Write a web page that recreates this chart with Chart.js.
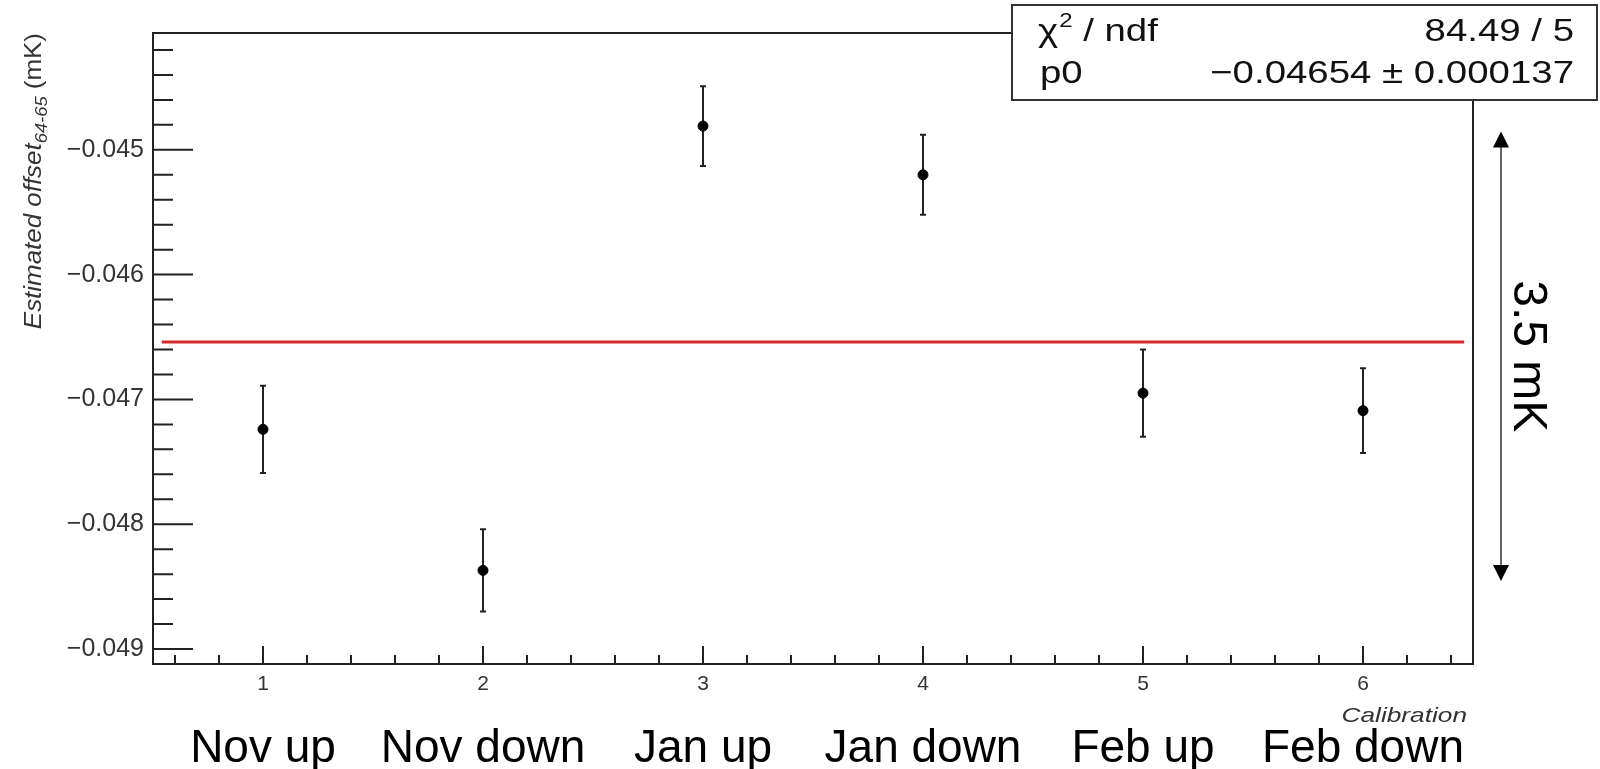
<!DOCTYPE html>
<html>
<head>
<meta charset="utf-8">
<script src="https://cdn.jsdelivr.net/npm/chart.js@4"></script>
<style>
  html, body { margin: 0; padding: 0; background: #fff; }
  canvas { display: block; }
</style>
</head>
<body>
<canvas id="offsetChart" width="1600" height="769"></canvas>
<script>
// 측정값 (calibration 별 offset, mK)
const calibX = [1, 2, 3, 4, 5, 6];
const offsetVals = [-0.04724, -0.04837, -0.04481, -0.04520, -0.04695, -0.04709];
const offsetErrs = [0.00035, 0.00033, 0.00032, 0.00032, 0.00035, 0.00034];
const monthLabels = ['Nov up', 'Nov down', 'Jan up', 'Jan down', 'Feb up', 'Feb down'];

// 축 눈금
const xTickVals = [1, 2, 3, 4, 5, 6];
const yTickVals = [-0.049, -0.048, -0.047, -0.046, -0.045];
const xRange = [0.5, 6.5];
const yRange = [-0.04912, -0.044064];

// 상수 fit 결과
const fitP0 = -0.04654;
const fitErr = 0.000137;
const fitChi2 = 84.49;
const fitNdf = 5;
const fitRange = [0.54, 6.46];

// 오른쪽 화살표 (3.5 mK 범위)
const arrowSpan = [-0.044854, -0.048454];
const arrowText = '3.5 mK';

const FONT = "'Liberation Sans', Arial, Helvetica, sans-serif";
const INK = '#222';

function minusSign(s) {
    return s.replace('-', '\u2212');
}

// 가로로 늘린 텍스트 (ROOT 그림이 가로로 늘어나 있음)
function stretchText(ctx, text, x, y, sx, align) {
    ctx.save();
    ctx.translate(x, y);
    ctx.scale(sx, 1);
    ctx.textAlign = align;
    ctx.fillText(text, 0, 0);
    ctx.restore();
}

const rootDecor = {
    id: 'rootDecor',
    beforeDatasetsDraw(chart) {
        const ctx = chart.ctx;
        const xs = chart.scales.x;
        const ys = chart.scales.y;
        ctx.save();
        ctx.strokeStyle = INK;
        ctx.lineWidth = 2;
        for (let i = 0; i < calibX.length; i++) {
            const px = xs.getPixelForValue(calibX[i]);
            const top = ys.getPixelForValue(offsetVals[i] + offsetErrs[i]);
            const bot = ys.getPixelForValue(offsetVals[i] - offsetErrs[i]);
            ctx.beginPath();
            ctx.moveTo(px, top);
            ctx.lineTo(px, bot);
            ctx.moveTo(px - 3, top);
            ctx.lineTo(px + 3, top);
            ctx.moveTo(px - 3, bot);
            ctx.lineTo(px + 3, bot);
            ctx.stroke();
        }
        ctx.restore();
    },
    afterDraw(chart) {
        const ctx = chart.ctx;
        const xs = chart.scales.x;
        const ys = chart.scales.y;
        const area = chart.chartArea;
        ctx.save();

        // frame
        ctx.strokeStyle = INK;
        ctx.lineWidth = 2;
        ctx.strokeRect(area.left, area.top, area.right - area.left, area.bottom - area.top);

        // y ticks (안쪽으로)
        ctx.beginPath();
        const yStep = 0.0002;
        for (let k = Math.ceil(yRange[0] / yStep - 1e-6); k * yStep <= yRange[1] + 1e-9; k++) {
            const py = ys.getPixelForValue(k * yStep);
            const len = (k % 5 === 0) ? 40 : 20;
            ctx.moveTo(area.left, py);
            ctx.lineTo(area.left + len, py);
        }
        // x ticks
        const xStep = 0.2;
        for (let k = Math.ceil(xRange[0] / xStep + 1e-6); k * xStep < xRange[1] - 1e-6; k++) {
            const px = xs.getPixelForValue(k * xStep);
            const len = (k % 5 === 0) ? 18 : 9;
            ctx.moveTo(px, area.bottom);
            ctx.lineTo(px, area.bottom - len);
        }
        ctx.stroke();

        // y axis title
        ctx.fillStyle = '#333';
        ctx.save();
        const mainFont = 'italic 24px ' + FONT;
        const subFont = 'italic 17px ' + FONT;
        const tailFont = '24px ' + FONT;
        ctx.font = mainFont;
        const w1 = ctx.measureText('Estimated offset').width;
        ctx.font = subFont;
        const w2 = ctx.measureText('64-65').width;
        ctx.font = tailFont;
        const w3 = ctx.measureText(' (mK)').width;
        const sy = 1.08;
        const total = (w1 + w2 + w3) * sy;
        ctx.translate(41, area.top + total);
        ctx.rotate(-Math.PI / 2);
        ctx.scale(sy, 1);
        ctx.textAlign = 'left';
        ctx.textBaseline = 'alphabetic';
        ctx.font = mainFont;
        ctx.fillText('Estimated offset', 0, 0);
        ctx.font = subFont;
        ctx.fillText('64-65', w1, 6);
        ctx.font = tailFont;
        ctx.fillText(' (mK)', w1 + w2, 0);
        ctx.restore();

        // x axis title
        ctx.font = 'italic 21px ' + FONT;
        ctx.textBaseline = 'alphabetic';
        stretchText(ctx, 'Calibration', area.right - 6, 722, 1.25, 'right');

        // month labels
        ctx.fillStyle = '#000';
        ctx.font = '46px ' + FONT;
        ctx.textAlign = 'center';
        for (let i = 0; i < monthLabels.length; i++) {
            ctx.fillText(monthLabels[i], xs.getPixelForValue(xTickVals[i]), 762);
        }

        // stats box
        const bx = 1012, by = 5, bw = 585, bh = 95;
        ctx.fillStyle = '#fff';
        ctx.fillRect(bx, by, bw, bh);
        ctx.strokeStyle = '#333';
        ctx.lineWidth = 2;
        ctx.strokeRect(bx, by, bw, bh);

        ctx.fillStyle = '#111';
        const sx = 1.2;
        ctx.font = '32px ' + FONT;
        let cx = 1038;
        stretchText(ctx, '\u03c7', cx, 41, sx, 'left');
        cx += ctx.measureText('\u03c7').width * sx;
        ctx.font = '20px ' + FONT;
        stretchText(ctx, '2', cx + 1, 27, sx, 'left');
        cx += ctx.measureText('2').width * sx + 1;
        ctx.font = '32px ' + FONT;
        stretchText(ctx, ' / ndf', cx, 41, sx, 'left');
        stretchText(ctx, fitChi2.toFixed(2) + ' / ' + fitNdf, 1574, 41, sx, 'right');
        stretchText(ctx, 'p0', 1040, 83, sx, 'left');
        stretchText(ctx, minusSign(fitP0.toFixed(5)) + ' \u00b1 ' + fitErr.toFixed(6), 1574, 83, sx, 'right');

        // arrow
        const ax = area.right + 28;
        const aTop = ys.getPixelForValue(arrowSpan[0]);
        const aBot = ys.getPixelForValue(arrowSpan[1]);
        ctx.strokeStyle = '#333';
        ctx.lineWidth = 1.5;
        ctx.beginPath();
        ctx.moveTo(ax, aTop + 12);
        ctx.lineTo(ax, aBot - 12);
        ctx.stroke();
        ctx.fillStyle = '#000';
        ctx.beginPath();
        ctx.moveTo(ax, aTop);
        ctx.lineTo(ax - 8, aTop + 16);
        ctx.lineTo(ax + 8, aTop + 16);
        ctx.closePath();
        ctx.moveTo(ax, aBot);
        ctx.lineTo(ax - 8, aBot - 16);
        ctx.lineTo(ax + 8, aBot - 16);
        ctx.closePath();
        ctx.fill();

        ctx.save();
        ctx.translate(ax + 26, (aTop + aBot) / 2);
        ctx.rotate(Math.PI / 2);
        ctx.font = '48px ' + FONT;
        ctx.textAlign = 'center';
        ctx.textBaseline = 'middle';
        ctx.fillText(arrowText, 0, 0);
        ctx.restore();

        ctx.restore();
    }
};

const points = calibX.map((x, i) => ({ x: x, y: offsetVals[i] }));
const fitLine = fitRange.map(x => ({ x: x, y: fitP0 }));

new Chart(document.getElementById('offsetChart'), {
    type: 'scatter',
    data: {
        datasets: [{
            label: 'offset',
            data: points,
            backgroundColor: '#000',
            borderColor: '#000',
            pointRadius: 5,
            pointHoverRadius: 5
        }, {
            label: 'fit',
            data: fitLine,
            showLine: true,
            borderColor: '#d42a2a',
            borderWidth: 3,
            pointRadius: 0
        }]
    },
    options: {
        responsive: false,
        animation: false,
        devicePixelRatio: 1,
        layout: { padding: { top: 33, right: 127, left: 0, bottom: 0 } },
        plugins: {
            legend: { display: false },
            tooltip: { enabled: false }
        },
        scales: {
            x: {
                type: 'linear',
                min: xRange[0],
                max: xRange[1],
                grid: { display: false, drawTicks: false },
                border: { display: false },
                afterBuildTicks: scale => { scale.ticks = xTickVals.map(v => ({ value: v })); },
                afterFit: scale => { scale.height = 105; },
                ticks: {
                    padding: 8,
                    color: '#333',
                    font: { family: FONT, size: 21 },
                    callback: v => String(v)
                }
            },
            y: {
                type: 'linear',
                min: yRange[0],
                max: yRange[1],
                grid: { display: false, drawTicks: false },
                border: { display: false },
                afterBuildTicks: scale => { scale.ticks = yTickVals.map(v => ({ value: v })); },
                afterFit: scale => { scale.width = 153; },
                ticks: {
                    padding: 9,
                    color: '#333',
                    font: { family: FONT, size: 25 },
                    callback: v => minusSign(v.toFixed(3))
                }
            }
        }
    },
    plugins: [rootDecor]
});
</script>
</body>
</html>
